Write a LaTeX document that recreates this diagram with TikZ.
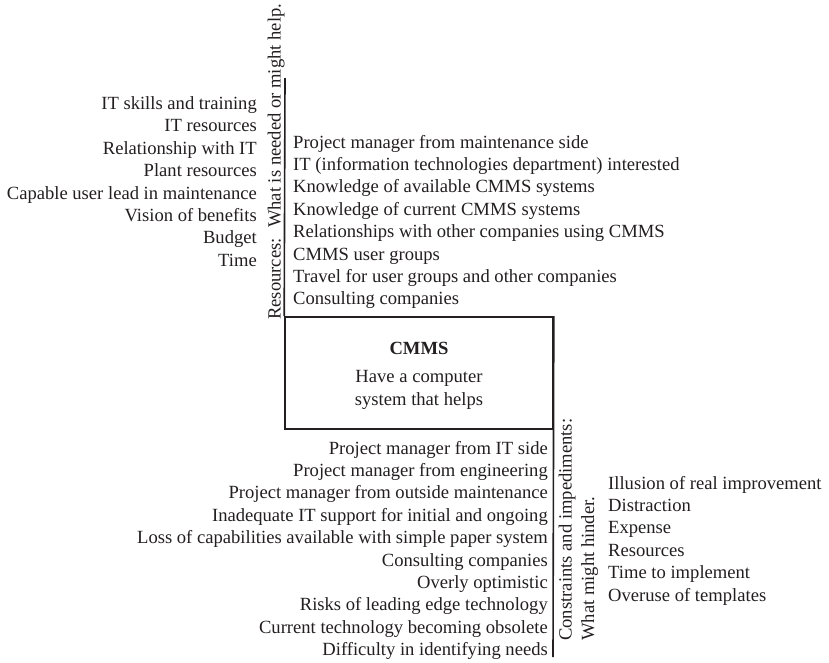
\documentclass[tikz,border=0pt]{standalone}
\usepackage{fontspec}
\setmainfont{Liberation Serif}
\definecolor{ink}{HTML}{231F20}
\begin{document}
\begin{tikzpicture}[x=1pt,y=-1pt,
  lbl/.style={inner sep=0pt, text=ink, font=\fontsize{18.6}{22.4}\selectfont},
  listR/.style={lbl, align=right, anchor=base east},
  listL/.style={lbl, align=left, anchor=base west},
  rule/.style={line width=1.6pt, draw=ink}]
\useasboundingbox (0,0) rectangle (829,662);

% goal box with the two axis rules
\node[rule, minimum width=268, minimum height=112, inner sep=0pt] (cmms) at (419,373) {};
\coordinate (upend) at (285,78);
\coordinate (downend) at (553,657);
\draw[rule] (cmms.north west) -- (upend);
\draw[rule] (cmms.north east) -- (downend);

% multi-line texts are placed by the baseline of their last line
\node[lbl, align=center, anchor=base] (goal) at (419,405)
  {\bfseries CMMS\\[5.6pt]Have a computer\\system that helps};

% resources
\node[lbl, rotate=90, anchor=base west] (restitle) at (280.5,320)
  {Resources:\hspace{0.55em}What is needed or might help.};
\node[listR] (helps) at (257,266.3)
  {IT skills and training\\IT resources\\Relationship with IT\\Plant resources\\
   Capable user lead in maintenance\\Vision of benefits\\Budget\\Time};
\node[listL] (needs) at (293,304.8)
  {Project manager from maintenance side\\
   IT (information technologies department) interested\\
   Knowledge of available CMMS systems\\Knowledge of current CMMS systems\\
   Relationships with other companies using CMMS\\CMMS user groups\\
   Travel for user groups and other companies\\Consulting companies};

% constraints
\node[lbl, rotate=90, align=left, anchor=base west] (contitle) at (594,641)
  {Constraints and impediments:\\What might hinder.};
\node[listR] (hinders) at (548,655.6)
  {Project manager from IT side\\Project manager from engineering\\
   Project manager from outside maintenance\\Inadequate IT support for initial and ongoing\\
   Loss of capabilities available with simple paper system\\Consulting companies\\
   Overly optimistic\\Risks of leading edge technology\\
   Current technology becoming obsolete\\Difficulty in identifying needs};
\node[listL] (risks) at (608,601)
  {Illusion of real improvement\\Distraction\\Expense\\Resources\\
   Time to implement\\Overuse of templates};
\end{tikzpicture}
\end{document}
